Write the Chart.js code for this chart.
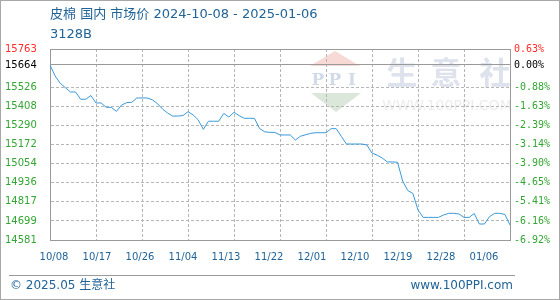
<!DOCTYPE html>
<html lang="zh-CN">
<head>
    <meta charset="UTF-8">
    <title>皮棉 国内 市场价</title>
    <script src="https://cdn.jsdelivr.net/npm/chart.js"></script>
    <style>
        html, body {
            margin: 0;
            padding: 0;
            background: #fff;
        }
        .wrap {
            width: 560px;
            height: 300px;
        }
    </style>
</head>
<body>
    <div class="wrap">
        <canvas id="priceChart" width="560" height="300"></canvas>
    </div>

    <script>
        // valores (um por dia, 10/08 -> 01/06)
        const prices = [
            15664, 15596, 15551, 15524, 15497, 15497, 15452, 15452, 15475, 15429,
            15429, 15402, 15402, 15377, 15416, 15431, 15433, 15460, 15460, 15460,
            15449, 15426, 15392, 15367, 15348, 15348, 15351, 15375, 15355, 15324,
            15266, 15316, 15316, 15316, 15364, 15342, 15371, 15351, 15334, 15334,
            15334, 15271, 15251, 15247, 15247, 15231, 15231, 15231, 15200, 15223,
            15232, 15241, 15245, 15245, 15245, 15270, 15270, 15222, 15175, 15175,
            15175, 15175, 15169, 15119, 15106, 15088, 15064, 15064, 15062, 14946,
            14887, 14869, 14767, 14721, 14721, 14721, 14721, 14736, 14746, 14746,
            14742, 14721, 14721, 14745, 14680, 14680, 14726, 14746, 14746, 14739,
            14674
        ];
        const xLabels = ['10/08', '10/17', '10/26', '11/04', '11/13', '11/22', '12/01', '12/10', '12/19', '12/28', '01/06'];
        const tickValues = [15763, 15664, 15526, 15408, 15290, 15172, 15054, 14936, 14817, 14699, 14581];
        const leftLabels = ['15763', '15664', '15526', '15408', '15290', '15172', '15054', '14936', '14817', '14699', '14581'];
        const rightLabels = ['0.63%', '0.00%', '-0.88%', '-1.63%', '-2.39%', '-3.14%', '-3.90%', '-4.65%', '-5.41%', '-6.16%', '-6.92%'];
        const basePrice = 15664;
        const titleText = '皮棉 国内 市场价 2024-10-08 - 2025-01-06';
        const codeText = '3128B';

        const yMin = tickValues[tickValues.length - 1];
        const yMax = tickValues[0];
        const lastDay = prices.length - 1;
        const gridStep = lastDay / (xLabels.length - 1);

        const blue = '#1f6397';
        const borderGray = '#9a9a9a';
        const dashGray = '#b6b6b6';

        function tickColor(ctx) {
            const v = ctx.tick ? ctx.tick.value : 0;
            if (v > basePrice) return '#ff2a2a';
            if (v === basePrice) return '#000';
            return '#33a533';
        }

        const decor = {
            id: 'decor',
            beforeDraw(chart) {
                const c = chart.ctx;
                c.save();
                c.fillStyle = '#fff';
                c.fillRect(0, 0, chart.width, chart.height);

                // marca d'agua
                c.fillStyle = '#f7d9d5';
                c.beginPath();
                c.moveTo(335, 51); c.lineTo(310, 66); c.lineTo(360, 66);
                c.closePath(); c.fill();
                c.fillStyle = '#dce7dc';
                c.beginPath();
                c.moveTo(311, 93); c.lineTo(361, 93); c.lineTo(336, 112);
                c.closePath(); c.fill();
                c.fillStyle = '#d3dae8';
                c.font = 'bold 17px "DejaVu Serif"';
                c.textAlign = 'center';
                c.textBaseline = 'middle';
                c.fillText('P', 318, 81);
                c.fillText('P', 335, 81);
                c.fillText('I', 352, 81);
                c.fillStyle = '#dde2ec';
                c.font = 'bold 31px "Noto Sans CJK SC"';
                c.fillText('生', 402, 72);
                c.fillText('意', 446, 72);
                c.fillText('社', 495, 72);
                c.fillStyle = '#ececec';
                c.font = '14px "DejaVu Sans"';
                c.fillText('WWW.100PPI.COM', 447, 106);
                c.restore();
            },
            afterDraw(chart) {
                const c = chart.ctx;
                c.save();
                c.fillStyle = blue;
                c.textBaseline = 'middle';
                c.textAlign = 'left';
                c.font = '13px "DejaVu Sans", "Noto Sans CJK SC"';
                c.fillText(titleText, 50, 15);
                c.fillText(codeText, 50, 35);

                // rodape
                c.strokeStyle = borderGray;
                c.lineWidth = 1;
                c.beginPath();
                c.moveTo(9, 275.5); c.lineTo(515, 275.5);
                c.stroke();
                c.font = '12px "DejaVu Sans", "Noto Sans CJK SC"';
                c.fillText('© 2025.05 生意社', 10, 286);
                c.textAlign = 'right';
                c.fillText('www.100PPI.com', 513, 286);

                c.strokeStyle = '#a8a8a8';
                c.strokeRect(0.5, 0.5, chart.width - 1, chart.height - 1);
                c.restore();
            }
        };

        const ctx = document.getElementById('priceChart').getContext('2d');
        const priceChart = new Chart(ctx, {
            type: 'line',
            data: {
                datasets: [{
                    data: prices.map((v, i) => ({ x: i, y: v })),
                    borderColor: '#3a9ad9',
                    borderWidth: 1,
                    pointRadius: 0,
                    fill: false,
                    tension: 0,
                    xAxisID: 'x',
                    yAxisID: 'y'
                }]
            },
            options: {
                responsive: false,
                devicePixelRatio: 1,
                animation: false,
                layout: { padding: { left: 5, right: 0, top: 49, bottom: 0 } },
                plugins: {
                    legend: { display: false },
                    tooltip: { enabled: false }
                },
                scales: {
                    x: {
                        type: 'linear',
                        position: 'bottom',
                        min: 0,
                        max: lastDay,
                        afterBuildTicks: s => { s.ticks = xLabels.map((_, i) => ({ value: i * gridStep })); },
                        afterFit: s => { s.height = 0; },
                        ticks: { display: false },
                        grid: {
                            drawTicks: false,
                            color: c => (c.index === 0 || c.index === xLabels.length - 1) ? 'rgba(0,0,0,0)' : dashGray
                        },
                        border: { display: true, color: borderGray, dash: [3, 2] }
                    },
                    x2: {
                        type: 'linear',
                        position: 'bottom',
                        min: -4 / 43,
                        max: 456 / 43,
                        afterBuildTicks: s => { s.ticks = xLabels.map((_, i) => ({ value: i })); },
                        afterFit: s => { s.height = 60; },
                        grid: { display: false, drawTicks: false },
                        border: { display: false },
                        ticks: {
                            autoSkip: false,
                            maxRotation: 0,
                            padding: 11,
                            color: blue,
                            font: { family: 'DejaVu Sans', size: 10 },
                            callback: v => xLabels[v]
                        }
                    },
                    y: {
                        type: 'linear',
                        position: 'left',
                        min: yMin,
                        max: yMax,
                        afterBuildTicks: s => { s.ticks = [...tickValues].reverse().map(v => ({ value: v })); },
                        afterFit: s => { s.width = 45; },
                        grid: {
                            drawTicks: false,
                            color: c => {
                                const v = c.tick ? c.tick.value : 0;
                                if (v === yMin) return 'rgba(0,0,0,0)';
                                return (v === basePrice || v === yMax) ? borderGray : dashGray;
                            }
                        },
                        border: {
                            display: true,
                            color: borderGray,
                            dash: c => {
                                const v = c.tick ? c.tick.value : 0;
                                return (v === basePrice || v === yMax) ? [] : [3, 2];
                            }
                        },
                        ticks: {
                            autoSkip: false,
                            crossAlign: 'far',
                            padding: 0,
                            color: tickColor,
                            font: { family: 'DejaVu Sans', size: 10 },
                            callback: v => leftLabels[tickValues.indexOf(v)]
                        }
                    },
                    y2: {
                        type: 'linear',
                        position: 'right',
                        min: yMin,
                        max: yMax,
                        afterBuildTicks: s => { s.ticks = [...tickValues].reverse().map(v => ({ value: v })); },
                        afterFit: s => { s.width = 50; },
                        grid: { display: false, drawTicks: false },
                        border: { display: true, color: borderGray },
                        ticks: {
                            autoSkip: false,
                            padding: 4,
                            color: tickColor,
                            font: { family: 'DejaVu Sans Mono', size: 10 },
                            callback: v => rightLabels[tickValues.indexOf(v)]
                        }
                    }
                }
            },
            plugins: [decor]
        });
    </script>
</body>
</html>
